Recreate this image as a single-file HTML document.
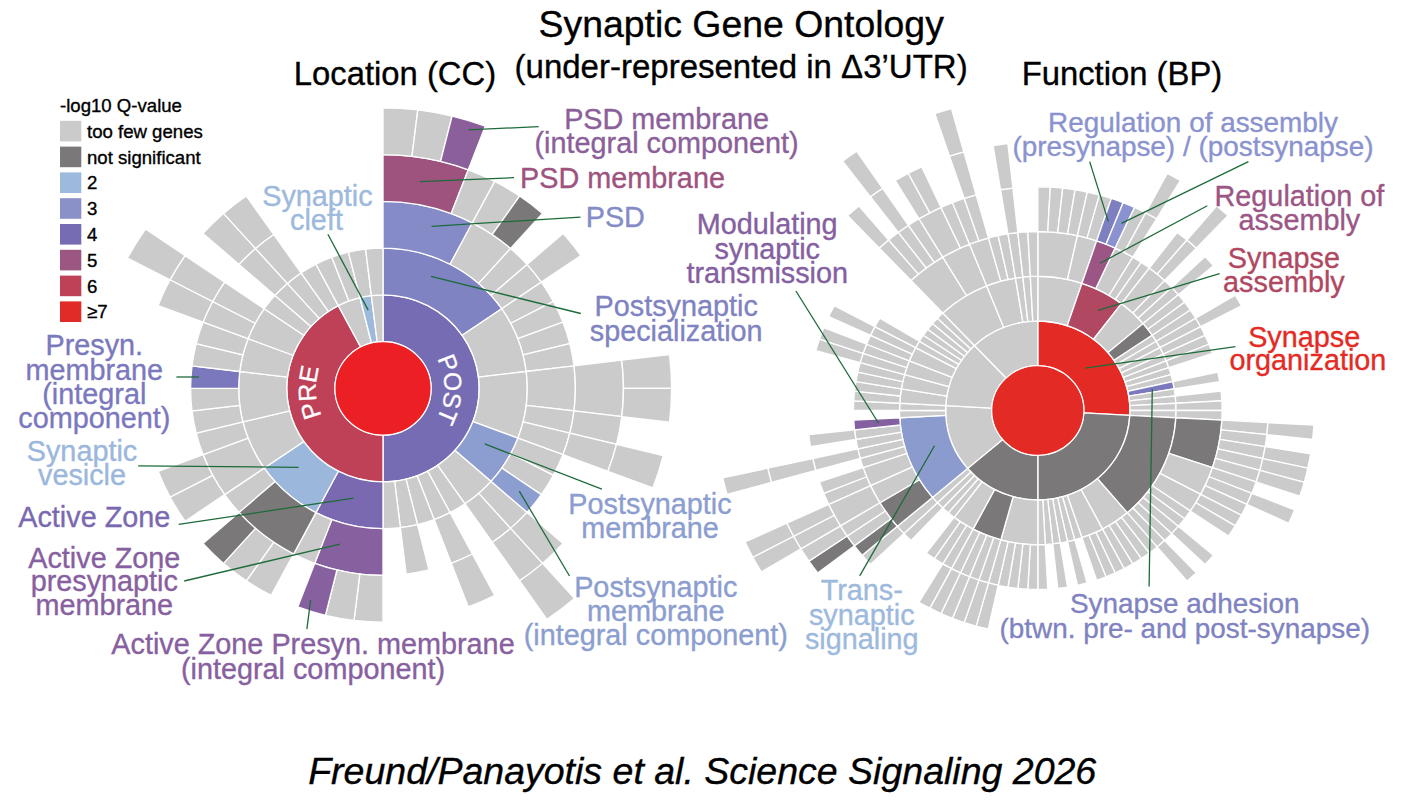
<!DOCTYPE html>
<html><head><meta charset="utf-8"><title>Synaptic Gene Ontology</title>
<style>
html,body{margin:0;padding:0;background:#fff;}
body{width:1402px;height:803px;overflow:hidden;position:relative;font-family:"Liberation Sans",sans-serif;}
svg text{font-family:"Liberation Sans",sans-serif;}
</style></head><body>
<svg width="1402" height="803" viewBox="0 0 1402 803" style="position:absolute;left:0;top:0">
<g transform="translate(383,388.4) scale(1,0.972)" stroke="#fff" stroke-width="1.35" stroke-linejoin="miter">
<path d="M0.00,-48.10L0.00,-96.20A96.20,96.20 0 0 1 0.00,96.20L0.00,48.10A48.10,48.10 0 0 0 0.00,-48.10Z" fill="#766cb3"/>
<path d="M0.00,48.10L0.00,96.20A96.20,96.20 0 0 1 -44.71,-85.18L-22.35,-42.59A48.10,48.10 0 0 0 0.00,48.10Z" fill="#be4157"/>
<path d="M-22.35,-42.59L-44.71,-85.18A96.20,96.20 0 0 1 -23.02,-93.40L-11.51,-46.70A48.10,48.10 0 0 0 -22.35,-42.59Z" fill="#cbcbcb"/>
<path d="M-11.51,-46.70L-23.02,-93.40A96.20,96.20 0 0 1 -11.60,-95.50L-5.80,-47.75A48.10,48.10 0 0 0 -11.51,-46.70Z" fill="#9db9dc"/>
<path d="M-5.80,-47.75L-11.60,-95.50A96.20,96.20 0 0 1 -0.00,-96.20L-0.00,-48.10A48.10,48.10 0 0 0 -5.80,-47.75Z" fill="#cbcbcb"/>
<path d="M0.00,-96.20L0.00,-144.30A144.30,144.30 0 0 1 118.76,-81.97L79.17,-54.65A96.20,96.20 0 0 0 0.00,-96.20Z" fill="#7f83c1"/>
<path d="M79.17,-54.65L118.76,-81.97A144.30,144.30 0 0 1 143.25,-17.39L95.50,-11.60A96.20,96.20 0 0 0 79.17,-54.65Z" fill="#cbcbcb"/>
<path d="M95.50,-11.60L143.25,-17.39A144.30,144.30 0 0 1 134.92,51.17L89.95,34.11A96.20,96.20 0 0 0 95.50,-11.60Z" fill="#cbcbcb"/>
<path d="M89.95,34.11L134.92,51.17A144.30,144.30 0 0 1 108.01,95.69L72.01,63.79A96.20,96.20 0 0 0 89.95,34.11Z" fill="#8c9dcf"/>
<path d="M72.01,63.79L108.01,95.69A144.30,144.30 0 0 1 81.97,118.76L54.65,79.17A96.20,96.20 0 0 0 72.01,63.79Z" fill="#cbcbcb"/>
<path d="M54.65,79.17L81.97,118.76A144.30,144.30 0 0 1 67.06,127.77L44.71,85.18A96.20,96.20 0 0 0 54.65,79.17Z" fill="#cbcbcb"/>
<path d="M44.71,85.18L67.06,127.77A144.30,144.30 0 0 1 51.17,134.92L34.11,89.95A96.20,96.20 0 0 0 44.71,85.18Z" fill="#cbcbcb"/>
<path d="M34.11,89.95L51.17,134.92A144.30,144.30 0 0 1 34.53,140.11L23.02,93.40A96.20,96.20 0 0 0 34.11,89.95Z" fill="#cbcbcb"/>
<path d="M23.02,93.40L34.53,140.11A144.30,144.30 0 0 1 17.39,143.25L11.60,95.50A96.20,96.20 0 0 0 23.02,93.40Z" fill="#cbcbcb"/>
<path d="M11.60,95.50L17.39,143.25A144.30,144.30 0 0 1 0.00,144.30L0.00,96.20A96.20,96.20 0 0 0 11.60,95.50Z" fill="#cbcbcb"/>
<path d="M0.00,96.20L0.00,144.30A144.30,144.30 0 0 1 -67.06,127.77L-44.71,85.18A96.20,96.20 0 0 0 0.00,96.20Z" fill="#7a69b0"/>
<path d="M-44.71,85.18L-67.06,127.77A144.30,144.30 0 0 1 -118.76,81.97L-79.17,54.65A96.20,96.20 0 0 0 -44.71,85.18Z" fill="#9bb7dc"/>
<path d="M-79.17,54.65L-118.76,81.97A144.30,144.30 0 0 1 -140.11,34.53L-93.40,23.02A96.20,96.20 0 0 0 -79.17,54.65Z" fill="#cbcbcb"/>
<path d="M-93.40,23.02L-140.11,34.53A144.30,144.30 0 0 1 -143.25,-17.39L-95.50,-11.60A96.20,96.20 0 0 0 -93.40,23.02Z" fill="#cbcbcb"/>
<path d="M-95.50,-11.60L-143.25,-17.39A144.30,144.30 0 0 1 -134.92,-51.17L-89.95,-34.11A96.20,96.20 0 0 0 -95.50,-11.60Z" fill="#cbcbcb"/>
<path d="M-89.95,-34.11L-134.92,-51.17A144.30,144.30 0 0 1 -118.76,-81.97L-79.17,-54.65A96.20,96.20 0 0 0 -89.95,-34.11Z" fill="#cbcbcb"/>
<path d="M-79.17,-54.65L-118.76,-81.97A144.30,144.30 0 0 1 -108.01,-95.69L-72.01,-63.79A96.20,96.20 0 0 0 -79.17,-54.65Z" fill="#cbcbcb"/>
<path d="M-72.01,-63.79L-108.01,-95.69A144.30,144.30 0 0 1 -95.69,-108.01L-63.79,-72.01A96.20,96.20 0 0 0 -72.01,-63.79Z" fill="#cbcbcb"/>
<path d="M-63.79,-72.01L-95.69,-108.01A144.30,144.30 0 0 1 -81.97,-118.76L-54.65,-79.17A96.20,96.20 0 0 0 -63.79,-72.01Z" fill="#cbcbcb"/>
<path d="M-54.65,-79.17L-81.97,-118.76A144.30,144.30 0 0 1 -67.06,-127.77L-44.71,-85.18A96.20,96.20 0 0 0 -54.65,-79.17Z" fill="#cbcbcb"/>
<path d="M-44.71,-85.18L-67.06,-127.77A144.30,144.30 0 0 1 -51.17,-134.92L-34.11,-89.95A96.20,96.20 0 0 0 -44.71,-85.18Z" fill="#cbcbcb"/>
<path d="M-34.11,-89.95L-51.17,-134.92A144.30,144.30 0 0 1 -34.53,-140.11L-23.02,-93.40A96.20,96.20 0 0 0 -34.11,-89.95Z" fill="#cbcbcb"/>
<path d="M-23.02,-93.40L-34.53,-140.11A144.30,144.30 0 0 1 -17.39,-143.25L-11.60,-95.50A96.20,96.20 0 0 0 -23.02,-93.40Z" fill="#cbcbcb"/>
<path d="M-11.60,-95.50L-17.39,-143.25A144.30,144.30 0 0 1 -0.00,-144.30L-0.00,-96.20A96.20,96.20 0 0 0 -11.60,-95.50Z" fill="#cbcbcb"/>
<path d="M0.00,-144.30L0.00,-192.40A192.40,192.40 0 0 1 89.41,-170.36L67.06,-127.77A144.30,144.30 0 0 0 0.00,-144.30Z" fill="#858bc6"/>
<path d="M67.06,-127.77L89.41,-170.36A192.40,192.40 0 0 1 127.58,-144.01L95.69,-108.01A144.30,144.30 0 0 0 67.06,-127.77Z" fill="#cbcbcb"/>
<path d="M95.69,-108.01L127.58,-144.01A192.40,192.40 0 0 1 144.01,-127.58L108.01,-95.69A144.30,144.30 0 0 0 95.69,-108.01Z" fill="#cbcbcb"/>
<path d="M108.01,-95.69L144.01,-127.58A192.40,192.40 0 0 1 158.34,-109.30L118.76,-81.97A144.30,144.30 0 0 0 108.01,-95.69Z" fill="#cbcbcb"/>
<path d="M118.76,-81.97L158.34,-109.30A192.40,192.40 0 0 1 170.36,-89.41L127.77,-67.06A144.30,144.30 0 0 0 118.76,-81.97Z" fill="#cbcbcb"/>
<path d="M127.77,-67.06L170.36,-89.41A192.40,192.40 0 0 1 179.90,-68.23L134.92,-51.17A144.30,144.30 0 0 0 127.77,-67.06Z" fill="#cbcbcb"/>
<path d="M134.92,-51.17L179.90,-68.23A192.40,192.40 0 0 1 186.81,-46.04L140.11,-34.53A144.30,144.30 0 0 0 134.92,-51.17Z" fill="#cbcbcb"/>
<path d="M140.11,-34.53L186.81,-46.04A192.40,192.40 0 0 1 191.00,-23.19L143.25,-17.39A144.30,144.30 0 0 0 140.11,-34.53Z" fill="#cbcbcb"/>
<path d="M143.25,-17.39L191.00,-23.19A192.40,192.40 0 0 1 191.00,23.19L143.25,17.39A144.30,144.30 0 0 0 143.25,-17.39Z" fill="#cbcbcb"/>
<path d="M143.25,17.39L191.00,23.19A192.40,192.40 0 0 1 186.81,46.04L140.11,34.53A144.30,144.30 0 0 0 143.25,17.39Z" fill="#cbcbcb"/>
<path d="M140.11,34.53L186.81,46.04A192.40,192.40 0 0 1 179.90,68.23L134.92,51.17A144.30,144.30 0 0 0 140.11,34.53Z" fill="#cbcbcb"/>
<path d="M134.92,51.17L179.90,68.23A192.40,192.40 0 0 1 170.36,89.41L127.77,67.06A144.30,144.30 0 0 0 134.92,51.17Z" fill="#cbcbcb"/>
<path d="M127.77,67.06L170.36,89.41A192.40,192.40 0 0 1 158.34,109.30L118.76,81.97A144.30,144.30 0 0 0 127.77,67.06Z" fill="#cbcbcb"/>
<path d="M118.76,81.97L158.34,109.30A192.40,192.40 0 0 1 144.01,127.58L108.01,95.69A144.30,144.30 0 0 0 118.76,81.97Z" fill="#8c9dcf"/>
<path d="M108.01,95.69L144.01,127.58A192.40,192.40 0 0 1 127.58,144.01L95.69,108.01A144.30,144.30 0 0 0 108.01,95.69Z" fill="#cbcbcb"/>
<path d="M95.69,108.01L127.58,144.01A192.40,192.40 0 0 1 109.30,158.34L81.97,118.76A144.30,144.30 0 0 0 95.69,108.01Z" fill="#cbcbcb"/>
<path d="M67.06,127.77L89.41,170.36A192.40,192.40 0 0 1 68.23,179.90L51.17,134.92A144.30,144.30 0 0 0 67.06,127.77Z" fill="#cbcbcb"/>
<path d="M34.53,140.11L46.04,186.81A192.40,192.40 0 0 1 23.19,191.00L17.39,143.25A144.30,144.30 0 0 0 34.53,140.11Z" fill="#cbcbcb"/>
<path d="M0.00,144.30L0.00,192.40A192.40,192.40 0 0 1 -68.23,179.90L-51.17,134.92A144.30,144.30 0 0 0 0.00,144.30Z" fill="#87609f"/>
<path d="M-51.17,134.92L-68.23,179.90A192.40,192.40 0 0 1 -89.41,170.36L-67.06,127.77A144.30,144.30 0 0 0 -51.17,134.92Z" fill="#cbcbcb"/>
<path d="M-67.06,127.77L-89.41,170.36A192.40,192.40 0 0 1 -144.01,127.58L-108.01,95.69A144.30,144.30 0 0 0 -67.06,127.77Z" fill="#7a7879"/>
<path d="M-108.01,95.69L-144.01,127.58A192.40,192.40 0 0 1 -158.34,109.30L-118.76,81.97A144.30,144.30 0 0 0 -108.01,95.69Z" fill="#cbcbcb"/>
<path d="M-118.76,81.97L-158.34,109.30A192.40,192.40 0 0 1 -179.90,68.23L-134.92,51.17A144.30,144.30 0 0 0 -118.76,81.97Z" fill="#cbcbcb"/>
<path d="M-134.92,51.17L-179.90,68.23A192.40,192.40 0 0 1 -186.81,46.04L-140.11,34.53A144.30,144.30 0 0 0 -134.92,51.17Z" fill="#cbcbcb"/>
<path d="M-140.11,34.53L-186.81,46.04A192.40,192.40 0 0 1 -191.00,23.19L-143.25,17.39A144.30,144.30 0 0 0 -140.11,34.53Z" fill="#cbcbcb"/>
<path d="M-143.25,17.39L-191.00,23.19A192.40,192.40 0 0 1 -192.40,0.00L-144.30,0.00A144.30,144.30 0 0 0 -143.25,17.39Z" fill="#cbcbcb"/>
<path d="M-144.30,0.00L-192.40,0.00A192.40,192.40 0 0 1 -191.00,-23.19L-143.25,-17.39A144.30,144.30 0 0 0 -144.30,0.00Z" fill="#7b78bd"/>
<path d="M-143.25,-17.39L-191.00,-23.19A192.40,192.40 0 0 1 -186.81,-46.04L-140.11,-34.53A144.30,144.30 0 0 0 -143.25,-17.39Z" fill="#cbcbcb"/>
<path d="M-140.11,-34.53L-186.81,-46.04A192.40,192.40 0 0 1 -179.90,-68.23L-134.92,-51.17A144.30,144.30 0 0 0 -140.11,-34.53Z" fill="#cbcbcb"/>
<path d="M-134.92,-51.17L-179.90,-68.23A192.40,192.40 0 0 1 -170.36,-89.41L-127.77,-67.06A144.30,144.30 0 0 0 -134.92,-51.17Z" fill="#cbcbcb"/>
<path d="M-127.77,-67.06L-170.36,-89.41A192.40,192.40 0 0 1 -158.34,-109.30L-118.76,-81.97A144.30,144.30 0 0 0 -127.77,-67.06Z" fill="#cbcbcb"/>
<path d="M-108.01,-95.69L-144.01,-127.58A192.40,192.40 0 0 1 -127.58,-144.01L-95.69,-108.01A144.30,144.30 0 0 0 -108.01,-95.69Z" fill="#cbcbcb"/>
<path d="M-95.69,-108.01L-127.58,-144.01A192.40,192.40 0 0 1 -109.30,-158.34L-81.97,-118.76A144.30,144.30 0 0 0 -95.69,-108.01Z" fill="#cbcbcb"/>
<path d="M0.00,-192.40L0.00,-240.50A240.50,240.50 0 0 1 85.28,-224.87L68.23,-179.90A192.40,192.40 0 0 0 0.00,-192.40Z" fill="#9e537f"/>
<path d="M68.23,-179.90L85.28,-224.87A240.50,240.50 0 0 1 111.77,-212.95L89.41,-170.36A192.40,192.40 0 0 0 68.23,-179.90Z" fill="#cbcbcb"/>
<path d="M89.41,-170.36L111.77,-212.95A240.50,240.50 0 0 1 136.62,-197.93L109.30,-158.34A192.40,192.40 0 0 0 89.41,-170.36Z" fill="#cbcbcb"/>
<path d="M109.30,-158.34L136.62,-197.93A240.50,240.50 0 0 1 159.48,-180.02L127.58,-144.01A192.40,192.40 0 0 0 109.30,-158.34Z" fill="#7a7879"/>
<path d="M144.01,-127.58L180.02,-159.48A240.50,240.50 0 0 1 197.93,-136.62L158.34,-109.30A192.40,192.40 0 0 0 144.01,-127.58Z" fill="#cbcbcb"/>
<path d="M191.00,-23.19L238.75,-28.99A240.50,240.50 0 0 1 238.75,28.99L191.00,23.19A192.40,192.40 0 0 0 191.00,-23.19Z" fill="#cbcbcb"/>
<path d="M191.00,23.19L238.75,28.99A240.50,240.50 0 0 1 233.51,57.56L186.81,46.04A192.40,192.40 0 0 0 191.00,23.19Z" fill="#cbcbcb"/>
<path d="M186.81,46.04L233.51,57.56A240.50,240.50 0 0 1 224.87,85.28L179.90,68.23A192.40,192.40 0 0 0 186.81,46.04Z" fill="#cbcbcb"/>
<path d="M144.01,127.58L180.02,159.48A240.50,240.50 0 0 1 159.48,180.02L127.58,144.01A192.40,192.40 0 0 0 144.01,127.58Z" fill="#cbcbcb"/>
<path d="M127.58,144.01L159.48,180.02A240.50,240.50 0 0 1 136.62,197.93L109.30,158.34A192.40,192.40 0 0 0 127.58,144.01Z" fill="#cbcbcb"/>
<path d="M89.41,170.36L111.77,212.95A240.50,240.50 0 0 1 85.28,224.87L68.23,179.90A192.40,192.40 0 0 0 89.41,170.36Z" fill="#cbcbcb"/>
<path d="M0.00,192.40L0.00,240.50A240.50,240.50 0 0 1 -28.99,238.75L-23.19,191.00A192.40,192.40 0 0 0 0.00,192.40Z" fill="#cbcbcb"/>
<path d="M-23.19,191.00L-28.99,238.75A240.50,240.50 0 0 1 -57.56,233.51L-46.04,186.81A192.40,192.40 0 0 0 -23.19,191.00Z" fill="#cbcbcb"/>
<path d="M-46.04,186.81L-57.56,233.51A240.50,240.50 0 0 1 -85.28,224.87L-68.23,179.90A192.40,192.40 0 0 0 -46.04,186.81Z" fill="#87609f"/>
<path d="M-89.41,170.36L-111.77,212.95A240.50,240.50 0 0 1 -136.62,197.93L-109.30,158.34A192.40,192.40 0 0 0 -89.41,170.36Z" fill="#cbcbcb"/>
<path d="M-109.30,158.34L-136.62,197.93A240.50,240.50 0 0 1 -159.48,180.02L-127.58,144.01A192.40,192.40 0 0 0 -109.30,158.34Z" fill="#cbcbcb"/>
<path d="M-127.58,144.01L-159.48,180.02A240.50,240.50 0 0 1 -180.02,159.48L-144.01,127.58A192.40,192.40 0 0 0 -127.58,144.01Z" fill="#7a7879"/>
<path d="M-158.34,109.30L-197.93,136.62A240.50,240.50 0 0 1 -212.95,111.77L-170.36,89.41A192.40,192.40 0 0 0 -158.34,109.30Z" fill="#cbcbcb"/>
<path d="M-170.36,89.41L-212.95,111.77A240.50,240.50 0 0 1 -224.87,85.28L-179.90,68.23A192.40,192.40 0 0 0 -170.36,89.41Z" fill="#cbcbcb"/>
<path d="M-179.90,-68.23L-224.87,-85.28A240.50,240.50 0 0 1 -212.95,-111.77L-170.36,-89.41A192.40,192.40 0 0 0 -179.90,-68.23Z" fill="#cbcbcb"/>
<path d="M-170.36,-89.41L-212.95,-111.77A240.50,240.50 0 0 1 -197.93,-136.62L-158.34,-109.30A192.40,192.40 0 0 0 -170.36,-89.41Z" fill="#cbcbcb"/>
<path d="M-144.01,-127.58L-180.02,-159.48A240.50,240.50 0 0 1 -159.48,-180.02L-127.58,-144.01A192.40,192.40 0 0 0 -144.01,-127.58Z" fill="#cbcbcb"/>
<path d="M-127.58,-144.01L-159.48,-180.02A240.50,240.50 0 0 1 -136.62,-197.93L-109.30,-158.34A192.40,192.40 0 0 0 -127.58,-144.01Z" fill="#cbcbcb"/>
<path d="M0.00,-240.50L0.00,-288.60A288.60,288.60 0 0 1 34.79,-286.50L28.99,-238.75A240.50,240.50 0 0 0 0.00,-240.50Z" fill="#cbcbcb"/>
<path d="M28.99,-238.75L34.79,-286.50A288.60,288.60 0 0 1 69.07,-280.21L57.56,-233.51A240.50,240.50 0 0 0 28.99,-238.75Z" fill="#cbcbcb"/>
<path d="M57.56,-233.51L69.07,-280.21A288.60,288.60 0 0 1 102.34,-269.85L85.28,-224.87A240.50,240.50 0 0 0 57.56,-233.51Z" fill="#8b5f9a"/>
<path d="M238.75,-28.99L286.50,-34.79A288.60,288.60 0 0 1 288.60,-0.00L240.50,-0.00A240.50,240.50 0 0 0 238.75,-28.99Z" fill="#cbcbcb"/>
<path d="M240.50,-0.00L288.60,-0.00A288.60,288.60 0 0 1 286.50,34.79L238.75,28.99A240.50,240.50 0 0 0 240.50,-0.00Z" fill="#cbcbcb"/>
<path d="M233.51,57.56L280.21,69.07A288.60,288.60 0 0 1 269.85,102.34L224.87,85.28A240.50,240.50 0 0 0 233.51,57.56Z" fill="#cbcbcb"/>
<path d="M159.48,180.02L191.38,216.02A288.60,288.60 0 0 1 163.94,237.51L136.62,197.93A240.50,240.50 0 0 0 159.48,180.02Z" fill="#cbcbcb"/>
<path d="M-212.95,-111.77L-255.54,-134.12A288.60,288.60 0 0 1 -237.51,-163.94L-197.93,-136.62A240.50,240.50 0 0 0 -212.95,-111.77Z" fill="#cbcbcb"/>
<circle r="48.1" fill="#ec2024" stroke-width="1.2"/>
</g>
<g transform="translate(1037.8,410.5) scale(1,0.971)" stroke="#fff" stroke-width="1.35" stroke-linejoin="miter">
<path d="M0.00,-46.08L0.00,-92.16A92.16,92.16 0 0 1 92.02,4.99L46.01,2.49A46.08,46.08 0 0 0 0.00,-46.08Z" fill="#e42a25"/>
<path d="M46.01,2.49L92.02,4.99A92.16,92.16 0 0 1 0.00,92.16L0.00,46.08A46.08,46.08 0 0 0 46.01,2.49Z" fill="#7a7879"/>
<path d="M0.00,46.08L0.00,92.16A92.16,92.16 0 0 1 -70.24,59.66L-35.12,29.83A46.08,46.08 0 0 0 0.00,46.08Z" fill="#7a7879"/>
<path d="M-35.12,29.83L-70.24,59.66A92.16,92.16 0 0 1 -92.02,-4.99L-46.01,-2.49A46.08,46.08 0 0 0 -35.12,29.83Z" fill="#cbcbcb"/>
<path d="M-46.01,-2.49L-92.02,-4.99A92.16,92.16 0 0 1 -63.38,-66.91L-31.69,-33.45A46.08,46.08 0 0 0 -46.01,-2.49Z" fill="#cbcbcb"/>
<path d="M-31.69,-33.45L-63.38,-66.91A92.16,92.16 0 0 1 -0.00,-92.16L-0.00,-46.08A46.08,46.08 0 0 0 -31.69,-33.45Z" fill="#cbcbcb"/>
<path d="M0.00,-92.16L0.00,-138.24A138.24,138.24 0 0 1 44.14,-131.00L29.43,-87.34A92.16,92.16 0 0 0 0.00,-92.16Z" fill="#cbcbcb"/>
<path d="M29.43,-87.34L44.14,-131.00A138.24,138.24 0 0 1 83.66,-110.05L55.77,-73.37A92.16,92.16 0 0 0 29.43,-87.34Z" fill="#b04862"/>
<path d="M55.77,-73.37L83.66,-110.05A138.24,138.24 0 0 1 105.36,-89.49L70.24,-59.66A92.16,92.16 0 0 0 55.77,-73.37Z" fill="#cbcbcb"/>
<path d="M70.24,-59.66L105.36,-89.49A138.24,138.24 0 0 1 114.42,-77.58L76.28,-51.72A92.16,92.16 0 0 0 70.24,-59.66Z" fill="#7a7879"/>
<path d="M76.28,-51.72L114.42,-77.58A138.24,138.24 0 0 1 118.45,-71.27L78.97,-47.51A92.16,92.16 0 0 0 76.28,-51.72Z" fill="#cbcbcb"/>
<path d="M78.97,-47.51L118.45,-71.27A138.24,138.24 0 0 1 122.14,-64.75L81.42,-43.17A92.16,92.16 0 0 0 78.97,-47.51Z" fill="#cbcbcb"/>
<path d="M81.42,-43.17L122.14,-64.75A138.24,138.24 0 0 1 125.46,-58.05L83.64,-38.70A92.16,92.16 0 0 0 81.42,-43.17Z" fill="#cbcbcb"/>
<path d="M83.64,-38.70L125.46,-58.05A138.24,138.24 0 0 1 128.42,-51.17L85.61,-34.11A92.16,92.16 0 0 0 83.64,-38.70Z" fill="#cbcbcb"/>
<path d="M85.61,-34.11L128.42,-51.17A138.24,138.24 0 0 1 131.00,-44.14L87.34,-29.43A92.16,92.16 0 0 0 85.61,-34.11Z" fill="#cbcbcb"/>
<path d="M87.34,-29.43L131.00,-44.14A138.24,138.24 0 0 1 133.20,-36.98L88.80,-24.66A92.16,92.16 0 0 0 87.34,-29.43Z" fill="#cbcbcb"/>
<path d="M88.80,-24.66L133.20,-36.98A138.24,138.24 0 0 1 135.01,-29.72L90.01,-19.81A92.16,92.16 0 0 0 88.80,-24.66Z" fill="#cbcbcb"/>
<path d="M90.01,-19.81L135.01,-29.72A138.24,138.24 0 0 1 136.42,-22.36L90.95,-14.91A92.16,92.16 0 0 0 90.01,-19.81Z" fill="#7b78bd"/>
<path d="M90.95,-14.91L136.42,-22.36A138.24,138.24 0 0 1 137.43,-14.95L91.62,-9.96A92.16,92.16 0 0 0 90.95,-14.91Z" fill="#cbcbcb"/>
<path d="M91.62,-9.96L137.43,-14.95A138.24,138.24 0 0 1 138.04,-7.48L92.02,-4.99A92.16,92.16 0 0 0 91.62,-9.96Z" fill="#cbcbcb"/>
<path d="M92.02,-4.99L138.04,-7.48A138.24,138.24 0 0 1 138.24,-0.00L92.16,-0.00A92.16,92.16 0 0 0 92.02,-4.99Z" fill="#cbcbcb"/>
<path d="M92.16,-0.00L138.24,-0.00A138.24,138.24 0 0 1 138.04,7.48L92.02,4.99A92.16,92.16 0 0 0 92.16,-0.00Z" fill="#cbcbcb"/>
<path d="M92.02,4.99L138.04,7.48A138.24,138.24 0 0 1 89.49,105.36L59.66,70.24A92.16,92.16 0 0 0 92.02,4.99Z" fill="#7a7879"/>
<path d="M59.66,70.24L89.49,105.36A138.24,138.24 0 0 1 64.75,122.14L43.17,81.42A92.16,92.16 0 0 0 59.66,70.24Z" fill="#cbcbcb"/>
<path d="M43.17,81.42L64.75,122.14A138.24,138.24 0 0 1 44.14,131.00L29.43,87.34A92.16,92.16 0 0 0 43.17,81.42Z" fill="#cbcbcb"/>
<path d="M29.43,87.34L44.14,131.00A138.24,138.24 0 0 1 36.98,133.20L24.66,88.80A92.16,92.16 0 0 0 29.43,87.34Z" fill="#cbcbcb"/>
<path d="M24.66,88.80L36.98,133.20A138.24,138.24 0 0 1 29.72,135.01L19.81,90.01A92.16,92.16 0 0 0 24.66,88.80Z" fill="#cbcbcb"/>
<path d="M19.81,90.01L29.72,135.01A138.24,138.24 0 0 1 22.36,136.42L14.91,90.95A92.16,92.16 0 0 0 19.81,90.01Z" fill="#cbcbcb"/>
<path d="M14.91,90.95L22.36,136.42A138.24,138.24 0 0 1 14.95,137.43L9.96,91.62A92.16,92.16 0 0 0 14.91,90.95Z" fill="#cbcbcb"/>
<path d="M9.96,91.62L14.95,137.43A138.24,138.24 0 0 1 7.48,138.04L4.99,92.02A92.16,92.16 0 0 0 9.96,91.62Z" fill="#cbcbcb"/>
<path d="M4.99,92.02L7.48,138.04A138.24,138.24 0 0 1 0.00,138.24L0.00,92.16A92.16,92.16 0 0 0 4.99,92.02Z" fill="#cbcbcb"/>
<path d="M0.00,92.16L0.00,138.24A138.24,138.24 0 0 1 -36.98,133.20L-24.66,88.80A92.16,92.16 0 0 0 0.00,92.16Z" fill="#cbcbcb"/>
<path d="M-24.66,88.80L-36.98,133.20A138.24,138.24 0 0 1 -64.75,122.14L-43.17,81.42A92.16,92.16 0 0 0 -24.66,88.80Z" fill="#7a7879"/>
<path d="M-43.17,81.42L-64.75,122.14A138.24,138.24 0 0 1 -83.66,110.05L-55.77,73.37A92.16,92.16 0 0 0 -43.17,81.42Z" fill="#cbcbcb"/>
<path d="M-55.77,73.37L-83.66,110.05A138.24,138.24 0 0 1 -89.49,105.36L-59.66,70.24A92.16,92.16 0 0 0 -55.77,73.37Z" fill="#cbcbcb"/>
<path d="M-59.66,70.24L-89.49,105.36A138.24,138.24 0 0 1 -95.07,100.36L-63.38,66.91A92.16,92.16 0 0 0 -59.66,70.24Z" fill="#cbcbcb"/>
<path d="M-63.38,66.91L-95.07,100.36A138.24,138.24 0 0 1 -100.36,95.07L-66.91,63.38A92.16,92.16 0 0 0 -63.38,66.91Z" fill="#cbcbcb"/>
<path d="M-66.91,63.38L-100.36,95.07A138.24,138.24 0 0 1 -105.36,89.49L-70.24,59.66A92.16,92.16 0 0 0 -66.91,63.38Z" fill="#cbcbcb"/>
<path d="M-70.24,59.66L-105.36,89.49A138.24,138.24 0 0 1 -138.04,7.48L-92.02,4.99A92.16,92.16 0 0 0 -70.24,59.66Z" fill="#8c9bce"/>
<path d="M-92.02,4.99L-138.04,7.48A138.24,138.24 0 0 1 -138.24,0.00L-92.16,0.00A92.16,92.16 0 0 0 -92.02,4.99Z" fill="#cbcbcb"/>
<path d="M-92.16,0.00L-138.24,0.00A138.24,138.24 0 0 1 -138.04,-7.48L-92.02,-4.99A92.16,92.16 0 0 0 -92.16,0.00Z" fill="#cbcbcb"/>
<path d="M-92.02,-4.99L-138.04,-7.48A138.24,138.24 0 0 1 -136.42,-22.36L-90.95,-14.91A92.16,92.16 0 0 0 -92.02,-4.99Z" fill="#cbcbcb"/>
<path d="M-90.95,-14.91L-136.42,-22.36A138.24,138.24 0 0 1 -133.20,-36.98L-88.80,-24.66A92.16,92.16 0 0 0 -90.95,-14.91Z" fill="#cbcbcb"/>
<path d="M-88.80,-24.66L-133.20,-36.98A138.24,138.24 0 0 1 -128.42,-51.17L-85.61,-34.11A92.16,92.16 0 0 0 -88.80,-24.66Z" fill="#cbcbcb"/>
<path d="M-85.61,-34.11L-128.42,-51.17A138.24,138.24 0 0 1 -122.14,-64.75L-81.42,-43.17A92.16,92.16 0 0 0 -85.61,-34.11Z" fill="#cbcbcb"/>
<path d="M-81.42,-43.17L-122.14,-64.75A138.24,138.24 0 0 1 -118.45,-71.27L-78.97,-47.51A92.16,92.16 0 0 0 -81.42,-43.17Z" fill="#cbcbcb"/>
<path d="M-78.97,-47.51L-118.45,-71.27A138.24,138.24 0 0 1 -114.42,-77.58L-76.28,-51.72A92.16,92.16 0 0 0 -78.97,-47.51Z" fill="#cbcbcb"/>
<path d="M-76.28,-51.72L-114.42,-77.58A138.24,138.24 0 0 1 -110.05,-83.66L-73.37,-55.77A92.16,92.16 0 0 0 -76.28,-51.72Z" fill="#cbcbcb"/>
<path d="M-73.37,-55.77L-110.05,-83.66A138.24,138.24 0 0 1 -105.36,-89.49L-70.24,-59.66A92.16,92.16 0 0 0 -73.37,-55.77Z" fill="#cbcbcb"/>
<path d="M-70.24,-59.66L-105.36,-89.49A138.24,138.24 0 0 1 -100.36,-95.07L-66.91,-63.38A92.16,92.16 0 0 0 -70.24,-59.66Z" fill="#cbcbcb"/>
<path d="M-66.91,-63.38L-100.36,-95.07A138.24,138.24 0 0 1 -95.07,-100.36L-63.38,-66.91A92.16,92.16 0 0 0 -66.91,-63.38Z" fill="#cbcbcb"/>
<path d="M-63.38,-66.91L-95.07,-100.36A138.24,138.24 0 0 1 -51.17,-128.42L-34.11,-85.61A92.16,92.16 0 0 0 -63.38,-66.91Z" fill="#cbcbcb"/>
<path d="M-34.11,-85.61L-51.17,-128.42A138.24,138.24 0 0 1 -22.36,-136.42L-14.91,-90.95A92.16,92.16 0 0 0 -34.11,-85.61Z" fill="#cbcbcb"/>
<path d="M-14.91,-90.95L-22.36,-136.42A138.24,138.24 0 0 1 -14.95,-137.43L-9.96,-91.62A92.16,92.16 0 0 0 -14.91,-90.95Z" fill="#cbcbcb"/>
<path d="M-9.96,-91.62L-14.95,-137.43A138.24,138.24 0 0 1 -7.48,-138.04L-4.99,-92.02A92.16,92.16 0 0 0 -9.96,-91.62Z" fill="#cbcbcb"/>
<path d="M-4.99,-92.02L-7.48,-138.04A138.24,138.24 0 0 1 -0.00,-138.24L-0.00,-92.16A92.16,92.16 0 0 0 -4.99,-92.02Z" fill="#cbcbcb"/>
<path d="M0.00,-138.24L0.00,-184.32A184.32,184.32 0 0 1 39.62,-180.01L29.72,-135.01A138.24,138.24 0 0 0 0.00,-138.24Z" fill="#cbcbcb"/>
<path d="M29.72,-135.01L39.62,-180.01A184.32,184.32 0 0 1 58.85,-174.67L44.14,-131.00A138.24,138.24 0 0 0 29.72,-135.01Z" fill="#cbcbcb"/>
<path d="M44.14,-131.00L58.85,-174.67A184.32,184.32 0 0 1 77.39,-167.28L58.05,-125.46A138.24,138.24 0 0 0 44.14,-131.00Z" fill="#9b5685"/>
<path d="M58.05,-125.46L77.39,-167.28A184.32,184.32 0 0 1 95.03,-157.94L71.27,-118.45A138.24,138.24 0 0 0 58.05,-125.46Z" fill="#cbcbcb"/>
<path d="M71.27,-118.45L95.03,-157.94A184.32,184.32 0 0 1 103.44,-152.56L77.58,-114.42A138.24,138.24 0 0 0 71.27,-118.45Z" fill="#cbcbcb"/>
<path d="M77.58,-114.42L103.44,-152.56A184.32,184.32 0 0 1 111.55,-146.74L83.66,-110.05A138.24,138.24 0 0 0 77.58,-114.42Z" fill="#cbcbcb"/>
<path d="M83.66,-110.05L111.55,-146.74A184.32,184.32 0 0 1 126.76,-133.82L95.07,-100.36A138.24,138.24 0 0 0 83.66,-110.05Z" fill="#cbcbcb"/>
<path d="M95.07,-100.36L126.76,-133.82A184.32,184.32 0 0 1 133.82,-126.76L100.36,-95.07A138.24,138.24 0 0 0 95.07,-100.36Z" fill="#cbcbcb"/>
<path d="M100.36,-95.07L133.82,-126.76A184.32,184.32 0 0 1 140.48,-119.33L105.36,-89.49A138.24,138.24 0 0 0 100.36,-95.07Z" fill="#cbcbcb"/>
<path d="M105.36,-89.49L140.48,-119.33A184.32,184.32 0 0 1 146.74,-111.55L110.05,-83.66A138.24,138.24 0 0 0 105.36,-89.49Z" fill="#cbcbcb"/>
<path d="M110.05,-83.66L146.74,-111.55A184.32,184.32 0 0 1 152.56,-103.44L114.42,-77.58A138.24,138.24 0 0 0 110.05,-83.66Z" fill="#cbcbcb"/>
<path d="M114.42,-77.58L152.56,-103.44A184.32,184.32 0 0 1 157.94,-95.03L118.45,-71.27A138.24,138.24 0 0 0 114.42,-77.58Z" fill="#cbcbcb"/>
<path d="M118.45,-71.27L157.94,-95.03A184.32,184.32 0 0 1 162.85,-86.34L122.14,-64.75A138.24,138.24 0 0 0 118.45,-71.27Z" fill="#cbcbcb"/>
<path d="M122.14,-64.75L162.85,-86.34A184.32,184.32 0 0 1 167.28,-77.39L125.46,-58.05A138.24,138.24 0 0 0 122.14,-64.75Z" fill="#cbcbcb"/>
<path d="M125.46,-58.05L167.28,-77.39A184.32,184.32 0 0 1 171.23,-68.22L128.42,-51.17A138.24,138.24 0 0 0 125.46,-58.05Z" fill="#cbcbcb"/>
<path d="M128.42,-51.17L171.23,-68.22A184.32,184.32 0 0 1 174.67,-58.85L131.00,-44.14A138.24,138.24 0 0 0 128.42,-51.17Z" fill="#cbcbcb"/>
<path d="M135.01,-29.72L180.01,-39.62A184.32,184.32 0 0 1 181.89,-29.82L136.42,-22.36A138.24,138.24 0 0 0 135.01,-29.72Z" fill="#cbcbcb"/>
<path d="M137.43,-14.95L183.24,-19.93A184.32,184.32 0 0 1 184.05,-9.98L138.04,-7.48A138.24,138.24 0 0 0 137.43,-14.95Z" fill="#cbcbcb"/>
<path d="M138.04,-7.48L184.05,-9.98A184.32,184.32 0 0 1 184.32,-0.00L138.24,-0.00A138.24,138.24 0 0 0 138.04,-7.48Z" fill="#cbcbcb"/>
<path d="M138.24,-0.00L184.32,-0.00A184.32,184.32 0 0 1 184.05,9.98L138.04,7.48A138.24,138.24 0 0 0 138.24,-0.00Z" fill="#cbcbcb"/>
<path d="M138.04,7.48L184.05,9.98A184.32,184.32 0 0 1 174.67,58.85L131.00,44.14A138.24,138.24 0 0 0 138.04,7.48Z" fill="#7a7879"/>
<path d="M131.00,44.14L174.67,58.85A184.32,184.32 0 0 1 162.85,86.34L122.14,64.75A138.24,138.24 0 0 0 131.00,44.14Z" fill="#cbcbcb"/>
<path d="M122.14,64.75L162.85,86.34A184.32,184.32 0 0 1 152.56,103.44L114.42,77.58A138.24,138.24 0 0 0 122.14,64.75Z" fill="#cbcbcb"/>
<path d="M114.42,77.58L152.56,103.44A184.32,184.32 0 0 1 146.74,111.55L110.05,83.66A138.24,138.24 0 0 0 114.42,77.58Z" fill="#cbcbcb"/>
<path d="M110.05,83.66L146.74,111.55A184.32,184.32 0 0 1 140.48,119.33L105.36,89.49A138.24,138.24 0 0 0 110.05,83.66Z" fill="#cbcbcb"/>
<path d="M105.36,89.49L140.48,119.33A184.32,184.32 0 0 1 133.82,126.76L100.36,95.07A138.24,138.24 0 0 0 105.36,89.49Z" fill="#cbcbcb"/>
<path d="M100.36,95.07L133.82,126.76A184.32,184.32 0 0 1 126.76,133.82L95.07,100.36A138.24,138.24 0 0 0 100.36,95.07Z" fill="#cbcbcb"/>
<path d="M95.07,100.36L126.76,133.82A184.32,184.32 0 0 1 119.33,140.48L89.49,105.36A138.24,138.24 0 0 0 95.07,100.36Z" fill="#cbcbcb"/>
<path d="M89.49,105.36L119.33,140.48A184.32,184.32 0 0 1 111.55,146.74L83.66,110.05A138.24,138.24 0 0 0 89.49,105.36Z" fill="#cbcbcb"/>
<path d="M83.66,110.05L111.55,146.74A184.32,184.32 0 0 1 103.44,152.56L77.58,114.42A138.24,138.24 0 0 0 83.66,110.05Z" fill="#cbcbcb"/>
<path d="M77.58,114.42L103.44,152.56A184.32,184.32 0 0 1 95.03,157.94L71.27,118.45A138.24,138.24 0 0 0 77.58,114.42Z" fill="#cbcbcb"/>
<path d="M71.27,118.45L95.03,157.94A184.32,184.32 0 0 1 86.34,162.85L64.75,122.14A138.24,138.24 0 0 0 71.27,118.45Z" fill="#cbcbcb"/>
<path d="M64.75,122.14L86.34,162.85A184.32,184.32 0 0 1 77.39,167.28L58.05,125.46A138.24,138.24 0 0 0 64.75,122.14Z" fill="#cbcbcb"/>
<path d="M58.05,125.46L77.39,167.28A184.32,184.32 0 0 1 68.22,171.23L51.17,128.42A138.24,138.24 0 0 0 58.05,125.46Z" fill="#cbcbcb"/>
<path d="M51.17,128.42L68.22,171.23A184.32,184.32 0 0 1 58.85,174.67L44.14,131.00A138.24,138.24 0 0 0 51.17,128.42Z" fill="#cbcbcb"/>
<path d="M36.98,133.20L49.31,177.60A184.32,184.32 0 0 1 39.62,180.01L29.72,135.01A138.24,138.24 0 0 0 36.98,133.20Z" fill="#cbcbcb"/>
<path d="M22.36,136.42L29.82,181.89A184.32,184.32 0 0 1 19.93,183.24L14.95,137.43A138.24,138.24 0 0 0 22.36,136.42Z" fill="#cbcbcb"/>
<path d="M7.48,138.04L9.98,184.05A184.32,184.32 0 0 1 0.00,184.32L0.00,138.24A138.24,138.24 0 0 0 7.48,138.04Z" fill="#cbcbcb"/>
<path d="M0.00,138.24L0.00,184.32A184.32,184.32 0 0 1 -9.98,184.05L-7.48,138.04A138.24,138.24 0 0 0 0.00,138.24Z" fill="#cbcbcb"/>
<path d="M-7.48,138.04L-9.98,184.05A184.32,184.32 0 0 1 -19.93,183.24L-14.95,137.43A138.24,138.24 0 0 0 -7.48,138.04Z" fill="#cbcbcb"/>
<path d="M-14.95,137.43L-19.93,183.24A184.32,184.32 0 0 1 -29.82,181.89L-22.36,136.42A138.24,138.24 0 0 0 -14.95,137.43Z" fill="#cbcbcb"/>
<path d="M-22.36,136.42L-29.82,181.89A184.32,184.32 0 0 1 -39.62,180.01L-29.72,135.01A138.24,138.24 0 0 0 -22.36,136.42Z" fill="#cbcbcb"/>
<path d="M-29.72,135.01L-39.62,180.01A184.32,184.32 0 0 1 -49.31,177.60L-36.98,133.20A138.24,138.24 0 0 0 -29.72,135.01Z" fill="#cbcbcb"/>
<path d="M-36.98,133.20L-49.31,177.60A184.32,184.32 0 0 1 -58.85,174.67L-44.14,131.00A138.24,138.24 0 0 0 -36.98,133.20Z" fill="#cbcbcb"/>
<path d="M-44.14,131.00L-58.85,174.67A184.32,184.32 0 0 1 -68.22,171.23L-51.17,128.42A138.24,138.24 0 0 0 -44.14,131.00Z" fill="#cbcbcb"/>
<path d="M-51.17,128.42L-68.22,171.23A184.32,184.32 0 0 1 -77.39,167.28L-58.05,125.46A138.24,138.24 0 0 0 -51.17,128.42Z" fill="#cbcbcb"/>
<path d="M-58.05,125.46L-77.39,167.28A184.32,184.32 0 0 1 -86.34,162.85L-64.75,122.14A138.24,138.24 0 0 0 -58.05,125.46Z" fill="#cbcbcb"/>
<path d="M-64.75,122.14L-86.34,162.85A184.32,184.32 0 0 1 -95.03,157.94L-71.27,118.45A138.24,138.24 0 0 0 -64.75,122.14Z" fill="#cbcbcb"/>
<path d="M-71.27,118.45L-95.03,157.94A184.32,184.32 0 0 1 -103.44,152.56L-77.58,114.42A138.24,138.24 0 0 0 -71.27,118.45Z" fill="#cbcbcb"/>
<path d="M-77.58,114.42L-103.44,152.56A184.32,184.32 0 0 1 -111.55,146.74L-83.66,110.05A138.24,138.24 0 0 0 -77.58,114.42Z" fill="#cbcbcb"/>
<path d="M-95.07,100.36L-126.76,133.82A184.32,184.32 0 0 1 -133.82,126.76L-100.36,95.07A138.24,138.24 0 0 0 -95.07,100.36Z" fill="#cbcbcb"/>
<path d="M-100.36,95.07L-133.82,126.76A184.32,184.32 0 0 1 -140.48,119.33L-105.36,89.49A138.24,138.24 0 0 0 -100.36,95.07Z" fill="#cbcbcb"/>
<path d="M-105.36,89.49L-140.48,119.33A184.32,184.32 0 0 1 -157.94,95.03L-118.45,71.27A138.24,138.24 0 0 0 -105.36,89.49Z" fill="#7a7879"/>
<path d="M-118.45,71.27L-157.94,95.03A184.32,184.32 0 0 1 -167.28,77.39L-125.46,58.05A138.24,138.24 0 0 0 -118.45,71.27Z" fill="#cbcbcb"/>
<path d="M-125.46,58.05L-167.28,77.39A184.32,184.32 0 0 1 -174.67,58.85L-131.00,44.14A138.24,138.24 0 0 0 -125.46,58.05Z" fill="#cbcbcb"/>
<path d="M-131.00,44.14L-174.67,58.85A184.32,184.32 0 0 1 -177.60,49.31L-133.20,36.98A138.24,138.24 0 0 0 -131.00,44.14Z" fill="#cbcbcb"/>
<path d="M-133.20,36.98L-177.60,49.31A184.32,184.32 0 0 1 -180.01,39.62L-135.01,29.72A138.24,138.24 0 0 0 -133.20,36.98Z" fill="#cbcbcb"/>
<path d="M-135.01,29.72L-180.01,39.62A184.32,184.32 0 0 1 -181.89,29.82L-136.42,22.36A138.24,138.24 0 0 0 -135.01,29.72Z" fill="#cbcbcb"/>
<path d="M-136.42,22.36L-181.89,29.82A184.32,184.32 0 0 1 -183.24,19.93L-137.43,14.95A138.24,138.24 0 0 0 -136.42,22.36Z" fill="#cbcbcb"/>
<path d="M-137.43,14.95L-183.24,19.93A184.32,184.32 0 0 1 -184.05,9.98L-138.04,7.48A138.24,138.24 0 0 0 -137.43,14.95Z" fill="#8560a0"/>
<path d="M-138.24,0.00L-184.32,0.00A184.32,184.32 0 0 1 -184.05,-9.98L-138.04,-7.48A138.24,138.24 0 0 0 -138.24,0.00Z" fill="#cbcbcb"/>
<path d="M-138.04,-7.48L-184.05,-9.98A184.32,184.32 0 0 1 -183.24,-19.93L-137.43,-14.95A138.24,138.24 0 0 0 -138.04,-7.48Z" fill="#cbcbcb"/>
<path d="M-137.43,-14.95L-183.24,-19.93A184.32,184.32 0 0 1 -181.89,-29.82L-136.42,-22.36A138.24,138.24 0 0 0 -137.43,-14.95Z" fill="#cbcbcb"/>
<path d="M-136.42,-22.36L-181.89,-29.82A184.32,184.32 0 0 1 -180.01,-39.62L-135.01,-29.72A138.24,138.24 0 0 0 -136.42,-22.36Z" fill="#cbcbcb"/>
<path d="M-135.01,-29.72L-180.01,-39.62A184.32,184.32 0 0 1 -177.60,-49.31L-133.20,-36.98A138.24,138.24 0 0 0 -135.01,-29.72Z" fill="#cbcbcb"/>
<path d="M-133.20,-36.98L-177.60,-49.31A184.32,184.32 0 0 1 -174.67,-58.85L-131.00,-44.14A138.24,138.24 0 0 0 -133.20,-36.98Z" fill="#cbcbcb"/>
<path d="M-131.00,-44.14L-174.67,-58.85A184.32,184.32 0 0 1 -171.23,-68.22L-128.42,-51.17A138.24,138.24 0 0 0 -131.00,-44.14Z" fill="#cbcbcb"/>
<path d="M-128.42,-51.17L-171.23,-68.22A184.32,184.32 0 0 1 -167.28,-77.39L-125.46,-58.05A138.24,138.24 0 0 0 -128.42,-51.17Z" fill="#cbcbcb"/>
<path d="M-125.46,-58.05L-167.28,-77.39A184.32,184.32 0 0 1 -162.85,-86.34L-122.14,-64.75A138.24,138.24 0 0 0 -125.46,-58.05Z" fill="#cbcbcb"/>
<path d="M-122.14,-64.75L-162.85,-86.34A184.32,184.32 0 0 1 -157.94,-95.03L-118.45,-71.27A138.24,138.24 0 0 0 -122.14,-64.75Z" fill="#cbcbcb"/>
<path d="M-95.07,-100.36L-126.76,-133.82A184.32,184.32 0 0 1 -95.03,-157.94L-71.27,-118.45A138.24,138.24 0 0 0 -95.07,-100.36Z" fill="#cbcbcb"/>
<path d="M-71.27,-118.45L-95.03,-157.94A184.32,184.32 0 0 1 -68.22,-171.23L-51.17,-128.42A138.24,138.24 0 0 0 -71.27,-118.45Z" fill="#cbcbcb"/>
<path d="M-51.17,-128.42L-68.22,-171.23A184.32,184.32 0 0 1 -49.31,-177.60L-36.98,-133.20A138.24,138.24 0 0 0 -51.17,-128.42Z" fill="#cbcbcb"/>
<path d="M-36.98,-133.20L-49.31,-177.60A184.32,184.32 0 0 1 -39.62,-180.01L-29.72,-135.01A138.24,138.24 0 0 0 -36.98,-133.20Z" fill="#cbcbcb"/>
<path d="M-29.72,-135.01L-39.62,-180.01A184.32,184.32 0 0 1 -29.82,-181.89L-22.36,-136.42A138.24,138.24 0 0 0 -29.72,-135.01Z" fill="#cbcbcb"/>
<path d="M-22.36,-136.42L-29.82,-181.89A184.32,184.32 0 0 1 -19.93,-183.24L-14.95,-137.43A138.24,138.24 0 0 0 -22.36,-136.42Z" fill="#cbcbcb"/>
<path d="M-14.95,-137.43L-19.93,-183.24A184.32,184.32 0 0 1 -9.98,-184.05L-7.48,-138.04A138.24,138.24 0 0 0 -14.95,-137.43Z" fill="#cbcbcb"/>
<path d="M-7.48,-138.04L-9.98,-184.05A184.32,184.32 0 0 1 -0.00,-184.32L-0.00,-138.24A138.24,138.24 0 0 0 -7.48,-138.04Z" fill="#cbcbcb"/>
<path d="M0.00,-184.32L0.00,-230.40A230.40,230.40 0 0 1 12.47,-230.06L9.98,-184.05A184.32,184.32 0 0 0 0.00,-184.32Z" fill="#cbcbcb"/>
<path d="M9.98,-184.05L12.47,-230.06A230.40,230.40 0 0 1 24.91,-229.05L19.93,-183.24A184.32,184.32 0 0 0 9.98,-184.05Z" fill="#cbcbcb"/>
<path d="M19.93,-183.24L24.91,-229.05A230.40,230.40 0 0 1 37.27,-227.36L29.82,-181.89A184.32,184.32 0 0 0 19.93,-183.24Z" fill="#cbcbcb"/>
<path d="M29.82,-181.89L37.27,-227.36A230.40,230.40 0 0 1 49.53,-225.01L39.62,-180.01A184.32,184.32 0 0 0 29.82,-181.89Z" fill="#cbcbcb"/>
<path d="M39.62,-180.01L49.53,-225.01A230.40,230.40 0 0 1 61.64,-222.00L49.31,-177.60A184.32,184.32 0 0 0 39.62,-180.01Z" fill="#cbcbcb"/>
<path d="M49.31,-177.60L61.64,-222.00A230.40,230.40 0 0 1 73.57,-218.34L58.85,-174.67A184.32,184.32 0 0 0 49.31,-177.60Z" fill="#cbcbcb"/>
<path d="M58.85,-174.67L73.57,-218.34A230.40,230.40 0 0 1 85.28,-214.04L68.22,-171.23A184.32,184.32 0 0 0 58.85,-174.67Z" fill="#7d7fc0"/>
<path d="M68.22,-171.23L85.28,-214.04A230.40,230.40 0 0 1 96.74,-209.11L77.39,-167.28A184.32,184.32 0 0 0 68.22,-171.23Z" fill="#8a93cf"/>
<path d="M77.39,-167.28L96.74,-209.11A230.40,230.40 0 0 1 107.92,-203.56L86.34,-162.85A184.32,184.32 0 0 0 77.39,-167.28Z" fill="#cbcbcb"/>
<path d="M86.34,-162.85L107.92,-203.56A230.40,230.40 0 0 1 118.78,-197.42L95.03,-157.94A184.32,184.32 0 0 0 86.34,-162.85Z" fill="#cbcbcb"/>
<path d="M111.55,-146.74L139.43,-183.42A230.40,230.40 0 0 1 149.16,-175.60L119.33,-140.48A184.32,184.32 0 0 0 111.55,-146.74Z" fill="#cbcbcb"/>
<path d="M119.33,-140.48L149.16,-175.60A230.40,230.40 0 0 1 158.45,-167.27L126.76,-133.82A184.32,184.32 0 0 0 119.33,-140.48Z" fill="#cbcbcb"/>
<path d="M133.82,-126.76L167.27,-158.45A230.40,230.40 0 0 1 175.60,-149.16L140.48,-119.33A184.32,184.32 0 0 0 133.82,-126.76Z" fill="#cbcbcb"/>
<path d="M157.94,-95.03L197.42,-118.78A230.40,230.40 0 0 1 203.56,-107.92L162.85,-86.34A184.32,184.32 0 0 0 157.94,-95.03Z" fill="#cbcbcb"/>
<path d="M184.05,9.98L230.06,12.47A230.40,230.40 0 0 1 229.05,24.91L183.24,19.93A184.32,184.32 0 0 0 184.05,9.98Z" fill="#cbcbcb"/>
<path d="M183.24,19.93L229.05,24.91A230.40,230.40 0 0 1 227.36,37.27L181.89,29.82A184.32,184.32 0 0 0 183.24,19.93Z" fill="#cbcbcb"/>
<path d="M181.89,29.82L227.36,37.27A230.40,230.40 0 0 1 225.01,49.53L180.01,39.62A184.32,184.32 0 0 0 181.89,29.82Z" fill="#cbcbcb"/>
<path d="M180.01,39.62L225.01,49.53A230.40,230.40 0 0 1 222.00,61.64L177.60,49.31A184.32,184.32 0 0 0 180.01,39.62Z" fill="#cbcbcb"/>
<path d="M177.60,49.31L222.00,61.64A230.40,230.40 0 0 1 218.34,73.57L174.67,58.85A184.32,184.32 0 0 0 177.60,49.31Z" fill="#cbcbcb"/>
<path d="M174.67,58.85L218.34,73.57A230.40,230.40 0 0 1 214.04,85.28L171.23,68.22A184.32,184.32 0 0 0 174.67,58.85Z" fill="#cbcbcb"/>
<path d="M171.23,68.22L214.04,85.28A230.40,230.40 0 0 1 209.11,96.74L167.28,77.39A184.32,184.32 0 0 0 171.23,68.22Z" fill="#cbcbcb"/>
<path d="M167.28,77.39L209.11,96.74A230.40,230.40 0 0 1 203.56,107.92L162.85,86.34A184.32,184.32 0 0 0 167.28,77.39Z" fill="#cbcbcb"/>
<path d="M162.85,86.34L203.56,107.92A230.40,230.40 0 0 1 197.42,118.78L157.94,95.03A184.32,184.32 0 0 0 162.85,86.34Z" fill="#cbcbcb"/>
<path d="M157.94,95.03L197.42,118.78A230.40,230.40 0 0 1 190.70,129.30L152.56,103.44A184.32,184.32 0 0 0 157.94,95.03Z" fill="#cbcbcb"/>
<path d="M140.48,119.33L175.60,149.16A230.40,230.40 0 0 1 167.27,158.45L133.82,126.76A184.32,184.32 0 0 0 140.48,119.33Z" fill="#cbcbcb"/>
<path d="M126.76,133.82L158.45,167.27A230.40,230.40 0 0 1 149.16,175.60L119.33,140.48A184.32,184.32 0 0 0 126.76,133.82Z" fill="#cbcbcb"/>
<path d="M-39.62,180.01L-49.53,225.01A230.40,230.40 0 0 1 -61.64,222.00L-49.31,177.60A184.32,184.32 0 0 0 -39.62,180.01Z" fill="#cbcbcb"/>
<path d="M-49.31,177.60L-61.64,222.00A230.40,230.40 0 0 1 -73.57,218.34L-58.85,174.67A184.32,184.32 0 0 0 -49.31,177.60Z" fill="#cbcbcb"/>
<path d="M-58.85,174.67L-73.57,218.34A230.40,230.40 0 0 1 -85.28,214.04L-68.22,171.23A184.32,184.32 0 0 0 -58.85,174.67Z" fill="#cbcbcb"/>
<path d="M-68.22,171.23L-85.28,214.04A230.40,230.40 0 0 1 -96.74,209.11L-77.39,167.28A184.32,184.32 0 0 0 -68.22,171.23Z" fill="#cbcbcb"/>
<path d="M-77.39,167.28L-96.74,209.11A230.40,230.40 0 0 1 -107.92,203.56L-86.34,162.85A184.32,184.32 0 0 0 -77.39,167.28Z" fill="#cbcbcb"/>
<path d="M-86.34,162.85L-107.92,203.56A230.40,230.40 0 0 1 -118.78,197.42L-95.03,157.94A184.32,184.32 0 0 0 -86.34,162.85Z" fill="#cbcbcb"/>
<path d="M-133.82,126.76L-167.27,158.45A230.40,230.40 0 0 1 -175.60,149.16L-140.48,119.33A184.32,184.32 0 0 0 -133.82,126.76Z" fill="#cbcbcb"/>
<path d="M-140.48,119.33L-175.60,149.16A230.40,230.40 0 0 1 -183.42,139.43L-146.74,111.55A184.32,184.32 0 0 0 -140.48,119.33Z" fill="#7a7879"/>
<path d="M-146.74,111.55L-183.42,139.43A230.40,230.40 0 0 1 -190.70,129.30L-152.56,103.44A184.32,184.32 0 0 0 -146.74,111.55Z" fill="#cbcbcb"/>
<path d="M-152.56,103.44L-190.70,129.30A230.40,230.40 0 0 1 -197.42,118.78L-157.94,95.03A184.32,184.32 0 0 0 -152.56,103.44Z" fill="#cbcbcb"/>
<path d="M-157.94,95.03L-197.42,118.78A230.40,230.40 0 0 1 -209.11,96.74L-167.28,77.39A184.32,184.32 0 0 0 -157.94,95.03Z" fill="#cbcbcb"/>
<path d="M-167.28,77.39L-209.11,96.74A230.40,230.40 0 0 1 -214.04,85.28L-171.23,68.22A184.32,184.32 0 0 0 -167.28,77.39Z" fill="#cbcbcb"/>
<path d="M-171.23,68.22L-214.04,85.28A230.40,230.40 0 0 1 -218.34,73.57L-174.67,58.85A184.32,184.32 0 0 0 -171.23,68.22Z" fill="#cbcbcb"/>
<path d="M-177.60,49.31L-222.00,61.64A230.40,230.40 0 0 1 -225.01,49.53L-180.01,39.62A184.32,184.32 0 0 0 -177.60,49.31Z" fill="#cbcbcb"/>
<path d="M-181.89,29.82L-227.36,37.27A230.40,230.40 0 0 1 -229.05,24.91L-183.24,19.93A184.32,184.32 0 0 0 -181.89,29.82Z" fill="#cbcbcb"/>
<path d="M-177.60,-49.31L-222.00,-61.64A230.40,230.40 0 0 1 -218.34,-73.57L-174.67,-58.85A184.32,184.32 0 0 0 -177.60,-49.31Z" fill="#cbcbcb"/>
<path d="M-174.67,-58.85L-218.34,-73.57A230.40,230.40 0 0 1 -214.04,-85.28L-171.23,-68.22A184.32,184.32 0 0 0 -174.67,-58.85Z" fill="#cbcbcb"/>
<path d="M-167.28,-77.39L-209.11,-96.74A230.40,230.40 0 0 1 -203.56,-107.92L-162.85,-86.34A184.32,184.32 0 0 0 -167.28,-77.39Z" fill="#cbcbcb"/>
<path d="M-126.76,-133.82L-158.45,-167.27A230.40,230.40 0 0 1 -149.16,-175.60L-119.33,-140.48A184.32,184.32 0 0 0 -126.76,-133.82Z" fill="#cbcbcb"/>
<path d="M-119.33,-140.48L-149.16,-175.60A230.40,230.40 0 0 1 -139.43,-183.42L-111.55,-146.74A184.32,184.32 0 0 0 -119.33,-140.48Z" fill="#cbcbcb"/>
<path d="M-111.55,-146.74L-139.43,-183.42A230.40,230.40 0 0 1 -129.30,-190.70L-103.44,-152.56A184.32,184.32 0 0 0 -111.55,-146.74Z" fill="#cbcbcb"/>
<path d="M-103.44,-152.56L-129.30,-190.70A230.40,230.40 0 0 1 -118.78,-197.42L-95.03,-157.94A184.32,184.32 0 0 0 -103.44,-152.56Z" fill="#cbcbcb"/>
<path d="M-95.03,-157.94L-118.78,-197.42A230.40,230.40 0 0 1 -96.74,-209.11L-77.39,-167.28A184.32,184.32 0 0 0 -95.03,-157.94Z" fill="#cbcbcb"/>
<path d="M-77.39,-167.28L-96.74,-209.11A230.40,230.40 0 0 1 -85.28,-214.04L-68.22,-171.23A184.32,184.32 0 0 0 -77.39,-167.28Z" fill="#cbcbcb"/>
<path d="M-68.22,-171.23L-85.28,-214.04A230.40,230.40 0 0 1 -73.57,-218.34L-58.85,-174.67A184.32,184.32 0 0 0 -68.22,-171.23Z" fill="#cbcbcb"/>
<path d="M-58.85,-174.67L-73.57,-218.34A230.40,230.40 0 0 1 -61.64,-222.00L-49.31,-177.60A184.32,184.32 0 0 0 -58.85,-174.67Z" fill="#cbcbcb"/>
<path d="M-29.82,-181.89L-37.27,-227.36A230.40,230.40 0 0 1 -24.91,-229.05L-19.93,-183.24A184.32,184.32 0 0 0 -29.82,-181.89Z" fill="#cbcbcb"/>
<path d="M107.92,-203.56L129.51,-244.27A276.48,276.48 0 0 1 142.54,-236.90L118.78,-197.42A230.40,230.40 0 0 0 107.92,-203.56Z" fill="#cbcbcb"/>
<path d="M149.16,-175.60L178.99,-210.72A276.48,276.48 0 0 1 190.14,-200.72L158.45,-167.27A230.40,230.40 0 0 0 149.16,-175.60Z" fill="#cbcbcb"/>
<path d="M230.06,12.47L276.07,14.97A276.48,276.48 0 0 1 274.86,29.89L229.05,24.91A230.40,230.40 0 0 0 230.06,12.47Z" fill="#cbcbcb"/>
<path d="M227.36,37.27L272.84,44.73A276.48,276.48 0 0 1 270.02,59.44L225.01,49.53A230.40,230.40 0 0 0 227.36,37.27Z" fill="#cbcbcb"/>
<path d="M225.01,49.53L270.02,59.44A276.48,276.48 0 0 1 266.40,73.97L222.00,61.64A230.40,230.40 0 0 0 225.01,49.53Z" fill="#cbcbcb"/>
<path d="M222.00,61.64L266.40,73.97A276.48,276.48 0 0 1 262.01,88.28L218.34,73.57A230.40,230.40 0 0 0 222.00,61.64Z" fill="#cbcbcb"/>
<path d="M214.04,85.28L256.84,102.34A276.48,276.48 0 0 1 250.93,116.09L209.11,96.74A230.40,230.40 0 0 0 214.04,85.28Z" fill="#cbcbcb"/>
<path d="M-183.42,139.43L-220.10,167.32A276.48,276.48 0 0 1 -228.84,155.16L-190.70,129.30A230.40,230.40 0 0 0 -183.42,139.43Z" fill="#7a7879"/>
<path d="M-190.70,129.30L-228.84,155.16A276.48,276.48 0 0 1 -236.90,142.54L-197.42,118.78A230.40,230.40 0 0 0 -190.70,129.30Z" fill="#cbcbcb"/>
<path d="M-197.42,118.78L-236.90,142.54A276.48,276.48 0 0 1 -244.27,129.51L-203.56,107.92A230.40,230.40 0 0 0 -197.42,118.78Z" fill="#cbcbcb"/>
<path d="M-203.56,107.92L-244.27,129.51A276.48,276.48 0 0 1 -250.93,116.09L-209.11,96.74A230.40,230.40 0 0 0 -203.56,107.92Z" fill="#cbcbcb"/>
<path d="M-222.00,61.64L-266.40,73.97A276.48,276.48 0 0 1 -270.02,59.44L-225.01,49.53A230.40,230.40 0 0 0 -222.00,61.64Z" fill="#cbcbcb"/>
<path d="M-158.45,-167.27L-190.14,-200.72A276.48,276.48 0 0 1 -178.99,-210.72L-149.16,-175.60A230.40,230.40 0 0 0 -158.45,-167.27Z" fill="#cbcbcb"/>
<path d="M-139.43,-183.42L-167.32,-220.10A276.48,276.48 0 0 1 -155.16,-228.84L-129.30,-190.70A230.40,230.40 0 0 0 -139.43,-183.42Z" fill="#cbcbcb"/>
<path d="M-118.78,-197.42L-142.54,-236.90A276.48,276.48 0 0 1 -129.51,-244.27L-107.92,-203.56A230.40,230.40 0 0 0 -118.78,-197.42Z" fill="#cbcbcb"/>
<path d="M-107.92,-203.56L-129.51,-244.27A276.48,276.48 0 0 1 -116.09,-250.93L-96.74,-209.11A230.40,230.40 0 0 0 -107.92,-203.56Z" fill="#cbcbcb"/>
<path d="M-73.57,-218.34L-88.28,-262.01A276.48,276.48 0 0 1 -73.97,-266.40L-61.64,-222.00A230.40,230.40 0 0 0 -73.57,-218.34Z" fill="#cbcbcb"/>
<path d="M-37.27,-227.36L-44.73,-272.84A276.48,276.48 0 0 1 -29.89,-274.86L-24.91,-229.05A230.40,230.40 0 0 0 -37.27,-227.36Z" fill="#cbcbcb"/>
<path d="M-236.90,142.54L-276.39,166.30A322.56,322.56 0 0 1 -284.99,151.09L-244.27,129.51A276.48,276.48 0 0 0 -236.90,142.54Z" fill="#cbcbcb"/>
<path d="M-244.27,129.51L-284.99,151.09A322.56,322.56 0 0 1 -292.75,135.44L-250.93,116.09A276.48,276.48 0 0 0 -244.27,129.51Z" fill="#cbcbcb"/>
<path d="M-266.40,73.97L-310.80,86.29A322.56,322.56 0 0 1 -315.02,69.34L-270.02,59.44A276.48,276.48 0 0 0 -266.40,73.97Z" fill="#cbcbcb"/>
<path d="M-167.32,-220.10L-195.20,-256.79A322.56,322.56 0 0 1 -181.02,-266.98L-155.16,-228.84A276.48,276.48 0 0 0 -167.32,-220.10Z" fill="#cbcbcb"/>
<path d="M-88.28,-262.01L-102.99,-305.68A322.56,322.56 0 0 1 -86.29,-310.80L-73.97,-266.40A276.48,276.48 0 0 0 -88.28,-262.01Z" fill="#cbcbcb"/>
<circle r="46.08" fill="#e42a25" stroke-width="1.2"/>
</g>
<text x="666.6" y="129.1" font-size="28.8" fill="#8b5f9a" stroke="#8b5f9a" stroke-width="0.35" text-anchor="middle" >PSD membrane</text>
<text x="666.6" y="153.4" font-size="28.8" fill="#8b5f9a" stroke="#8b5f9a" stroke-width="0.35" text-anchor="middle" >(integral component)</text>
<text x="622.5" y="188.4" font-size="28.8" fill="#9e537f" stroke="#9e537f" stroke-width="0.35" text-anchor="middle" >PSD membrane</text>
<text x="615.3" y="227.2" font-size="28.8" fill="#858bc6" stroke="#858bc6" stroke-width="0.35" text-anchor="middle" >PSD</text>
<text x="676.2" y="315.8" font-size="28.8" fill="#7f83c1" stroke="#7f83c1" stroke-width="0.35" text-anchor="middle" >Postsynaptic</text>
<text x="676.2" y="340.5" font-size="28.8" fill="#7f83c1" stroke="#7f83c1" stroke-width="0.35" text-anchor="middle" >specialization</text>
<text x="317.4" y="206.0" font-size="28.8" fill="#9db9dc" stroke="#9db9dc" stroke-width="0.35" text-anchor="middle" >Synaptic</text>
<text x="316.5" y="229.6" font-size="28.8" fill="#9db9dc" stroke="#9db9dc" stroke-width="0.35" text-anchor="middle" >cleft</text>
<text x="94.3" y="355.4" font-size="28.8" fill="#7b78bd" stroke="#7b78bd" stroke-width="0.35" text-anchor="middle" >Presyn.</text>
<text x="94.3" y="379.8" font-size="28.8" fill="#7b78bd" stroke="#7b78bd" stroke-width="0.35" text-anchor="middle" >membrane</text>
<text x="94.3" y="404.4" font-size="28.8" fill="#7b78bd" stroke="#7b78bd" stroke-width="0.35" text-anchor="middle" >(integral</text>
<text x="94.3" y="427.7" font-size="28.8" fill="#7b78bd" stroke="#7b78bd" stroke-width="0.35" text-anchor="middle" >component)</text>
<text x="82" y="461.1" font-size="28.8" fill="#9bb7dc" stroke="#9bb7dc" stroke-width="0.35" text-anchor="middle" >Synaptic</text>
<text x="82" y="485.2" font-size="28.8" fill="#9bb7dc" stroke="#9bb7dc" stroke-width="0.35" text-anchor="middle" >vesicle</text>
<text x="94.3" y="527.2" font-size="28.8" fill="#7a69b0" stroke="#7a69b0" stroke-width="0.35" text-anchor="middle" >Active Zone</text>
<text x="104.3" y="567.7" font-size="28.8" fill="#87609f" stroke="#87609f" stroke-width="0.35" text-anchor="middle" >Active Zone</text>
<text x="104.3" y="591.4" font-size="28.8" fill="#87609f" stroke="#87609f" stroke-width="0.35" text-anchor="middle" >presynaptic</text>
<text x="104.3" y="615.1" font-size="28.8" fill="#87609f" stroke="#87609f" stroke-width="0.35" text-anchor="middle" >membrane</text>
<text x="313" y="654.2" font-size="28.8" fill="#87609f" stroke="#87609f" stroke-width="0.35" text-anchor="middle" >Active Zone Presyn. membrane</text>
<text x="313" y="678.6" font-size="28.8" fill="#87609f" stroke="#87609f" stroke-width="0.35" text-anchor="middle" >(integral component)</text>
<text x="650" y="513.6" font-size="28.8" fill="#8c9dcf" stroke="#8c9dcf" stroke-width="0.35" text-anchor="middle" >Postsynaptic</text>
<text x="650" y="537.5" font-size="28.8" fill="#8c9dcf" stroke="#8c9dcf" stroke-width="0.35" text-anchor="middle" >membrane</text>
<text x="655.8" y="596.6" font-size="28.8" fill="#8c9dcf" stroke="#8c9dcf" stroke-width="0.35" text-anchor="middle" >Postsynaptic</text>
<text x="655.8" y="620.8" font-size="28.8" fill="#8c9dcf" stroke="#8c9dcf" stroke-width="0.35" text-anchor="middle" >membrane</text>
<text x="655.8" y="645.1" font-size="28.8" fill="#8c9dcf" stroke="#8c9dcf" stroke-width="0.35" text-anchor="middle" >(integral component)</text>
<text x="1193.0" y="132.0" font-size="27.9" fill="#8a93cf" stroke="#8a93cf" stroke-width="0.35" text-anchor="middle" >Regulation of assembly</text>
<text x="1193.0" y="156.0" font-size="27.9" fill="#8a93cf" stroke="#8a93cf" stroke-width="0.35" text-anchor="middle" >(presynapse) / (postsynapse)</text>
<text x="1299.4" y="206.0" font-size="28.8" fill="#9b5685" stroke="#9b5685" stroke-width="0.35" text-anchor="middle" >Regulation of</text>
<text x="1299.4" y="229.5" font-size="28.8" fill="#9b5685" stroke="#9b5685" stroke-width="0.35" text-anchor="middle" >assembly</text>
<text x="1283.9" y="267.5" font-size="28.8" fill="#b04862" stroke="#b04862" stroke-width="0.35" text-anchor="middle" >Synapse</text>
<text x="1283.9" y="291.6" font-size="28.8" fill="#b04862" stroke="#b04862" stroke-width="0.35" text-anchor="middle" >assembly</text>
<text x="1304.2" y="346.6" font-size="28.8" fill="#e42a25" stroke="#e42a25" stroke-width="0.35" text-anchor="middle" >Synapse</text>
<text x="1307.9" y="369.7" font-size="28.8" fill="#e42a25" stroke="#e42a25" stroke-width="0.35" text-anchor="middle" >organization</text>
<text x="767.2" y="233.6" font-size="28.8" fill="#8560a0" stroke="#8560a0" stroke-width="0.35" text-anchor="middle" >Modulating</text>
<text x="767.2" y="258.5" font-size="28.8" fill="#8560a0" stroke="#8560a0" stroke-width="0.35" text-anchor="middle" >synaptic</text>
<text x="767.2" y="283.0" font-size="28.8" fill="#8560a0" stroke="#8560a0" stroke-width="0.35" text-anchor="middle" >transmission</text>
<text x="861.8" y="600.0" font-size="28.8" fill="#9db9dc" stroke="#9db9dc" stroke-width="0.35" text-anchor="middle" >Trans-</text>
<text x="861.8" y="624.9" font-size="28.8" fill="#9db9dc" stroke="#9db9dc" stroke-width="0.35" text-anchor="middle" >synaptic</text>
<text x="861.8" y="649.2" font-size="28.8" fill="#9db9dc" stroke="#9db9dc" stroke-width="0.35" text-anchor="middle" >signaling</text>
<text x="1184.7" y="612.8" font-size="27.9" fill="#7f83c1" stroke="#7f83c1" stroke-width="0.35" text-anchor="middle" >Synapse adhesion</text>
<text x="1184.7" y="637.7" font-size="27.9" fill="#7f83c1" stroke="#7f83c1" stroke-width="0.35" text-anchor="middle" >(btwn. pre- and post-synapse)</text>
<line x1="468.5" y1="129.8" x2="538.7" y2="126.7" stroke="#1d6b3a" stroke-width="1.3"/>
<line x1="419.9" y1="181.7" x2="514" y2="177.7" stroke="#1d6b3a" stroke-width="1.3"/>
<line x1="431.6" y1="226.3" x2="580.5" y2="217.1" stroke="#1d6b3a" stroke-width="1.3"/>
<line x1="431" y1="276.4" x2="580.8" y2="313.5" stroke="#1d6b3a" stroke-width="1.3"/>
<line x1="327.9" y1="234.2" x2="368.2" y2="310.1" stroke="#1d6b3a" stroke-width="1.3"/>
<line x1="176.4" y1="377" x2="199" y2="377" stroke="#1d6b3a" stroke-width="1.3"/>
<line x1="138.2" y1="465.9" x2="298.5" y2="467.3" stroke="#1d6b3a" stroke-width="1.3"/>
<line x1="178.7" y1="524.4" x2="353.7" y2="498.1" stroke="#1d6b3a" stroke-width="1.3"/>
<line x1="184.2" y1="581" x2="339.9" y2="544.2" stroke="#1d6b3a" stroke-width="1.3"/>
<line x1="306.9" y1="629.1" x2="310.6" y2="600.1" stroke="#1d6b3a" stroke-width="1.3"/>
<line x1="484.7" y1="443.9" x2="601.9" y2="489.2" stroke="#1d6b3a" stroke-width="1.3"/>
<line x1="519.3" y1="491.1" x2="569.5" y2="576" stroke="#1d6b3a" stroke-width="1.3"/>
<line x1="1089.7" y1="161.6" x2="1108.3" y2="221.4" stroke="#1d6b3a" stroke-width="1.3"/>
<line x1="1248.4" y1="161.6" x2="1121.4" y2="223.3" stroke="#1d6b3a" stroke-width="1.3"/>
<line x1="1207.3" y1="205.7" x2="1100.1" y2="263.2" stroke="#1d6b3a" stroke-width="1.3"/>
<line x1="1219.6" y1="273.7" x2="1097.9" y2="310.3" stroke="#1d6b3a" stroke-width="1.3"/>
<line x1="1235.5" y1="346.6" x2="1085.2" y2="368.2" stroke="#1d6b3a" stroke-width="1.3"/>
<line x1="795.9" y1="291" x2="878.4" y2="423" stroke="#1d6b3a" stroke-width="1.3"/>
<line x1="934.5" y1="445.8" x2="859.7" y2="575.9" stroke="#1d6b3a" stroke-width="1.3"/>
<line x1="1152.3" y1="389.3" x2="1149.1" y2="586.6" stroke="#1d6b3a" stroke-width="1.3"/>
<path id="ringpre" d="M383,455.4 A67,67 0 1 1 383,321.4 A67,67 0 1 1 383,455.4" fill="none"/>
<path id="ringpost" d="M383,449.9 A61.5,61.5 0 1 1 383,326.9 A61.5,61.5 0 1 1 383,449.9" fill="none"/>
<text font-size="25" letter-spacing="-1.0" fill="#fff" stroke="#fff" stroke-width="0.3" text-anchor="middle"><textPath href="#ringpre" startOffset="101">PRE</textPath></text>
<text font-size="24.5" letter-spacing="-1" fill="#fff" stroke="#fff" stroke-width="0.3" text-anchor="middle"><textPath href="#ringpost" startOffset="289.8">POST</textPath></text>
<text x="741.2" y="37.4" font-size="37.4" fill="#000" stroke="#000" stroke-width="0.35" text-anchor="middle" >Synaptic Gene Ontology</text>
<text x="741.1" y="77.7" font-size="33" fill="#000" stroke="#000" stroke-width="0.35" text-anchor="middle" >(under-represented in Δ3’UTR)</text>
<text x="293.8" y="84.8" font-size="32.8" fill="#000" stroke="#000" stroke-width="0.35" text-anchor="start" >Location (CC)</text>
<text x="1021.7" y="85.1" font-size="32.8" fill="#000" stroke="#000" stroke-width="0.35" text-anchor="start" >Function (BP)</text>
<text x="702.2" y="784.2" font-size="37.5" fill="#000" stroke="#000" stroke-width="0.35" text-anchor="middle" font-style="italic">Freund/Panayotis et al. Science Signaling 2026</text>
<text x="60" y="111.5" font-size="18.6" fill="#000" stroke="#000" stroke-width="0.35" text-anchor="start" >-log10 Q-value</text>
<rect x="60" y="120.8" width="21.3" height="20.6" fill="#cbcbcb"/>
<text x="87" y="137.8" font-size="18.6" fill="#000" stroke="#000" stroke-width="0.35" text-anchor="start" >too few genes</text>
<rect x="60" y="146.6" width="21.3" height="20.6" fill="#7a7879"/>
<text x="87" y="163.6" font-size="18.6" fill="#000" stroke="#000" stroke-width="0.35" text-anchor="start" >not significant</text>
<rect x="60" y="172.4" width="21.3" height="20.6" fill="#9db9dc"/>
<text x="87" y="189.4" font-size="18.6" fill="#000" stroke="#000" stroke-width="0.35" text-anchor="start" >2</text>
<rect x="60" y="198.2" width="21.3" height="20.6" fill="#8a91c8"/>
<text x="87" y="215.2" font-size="18.6" fill="#000" stroke="#000" stroke-width="0.35" text-anchor="start" >3</text>
<rect x="60" y="224.0" width="21.3" height="20.6" fill="#766cb3"/>
<text x="87" y="241.0" font-size="18.6" fill="#000" stroke="#000" stroke-width="0.35" text-anchor="start" >4</text>
<rect x="60" y="249.8" width="21.3" height="20.6" fill="#9c5682"/>
<text x="87" y="266.8" font-size="18.6" fill="#000" stroke="#000" stroke-width="0.35" text-anchor="start" >5</text>
<rect x="60" y="275.6" width="21.3" height="20.6" fill="#be4157"/>
<text x="87" y="292.6" font-size="18.6" fill="#000" stroke="#000" stroke-width="0.35" text-anchor="start" >6</text>
<rect x="60" y="301.4" width="21.3" height="20.6" fill="#e02b26"/>
<text x="87" y="318.4" font-size="18.6" fill="#000" stroke="#000" stroke-width="0.35" text-anchor="start" >≥7</text>
</svg>
</body></html>
